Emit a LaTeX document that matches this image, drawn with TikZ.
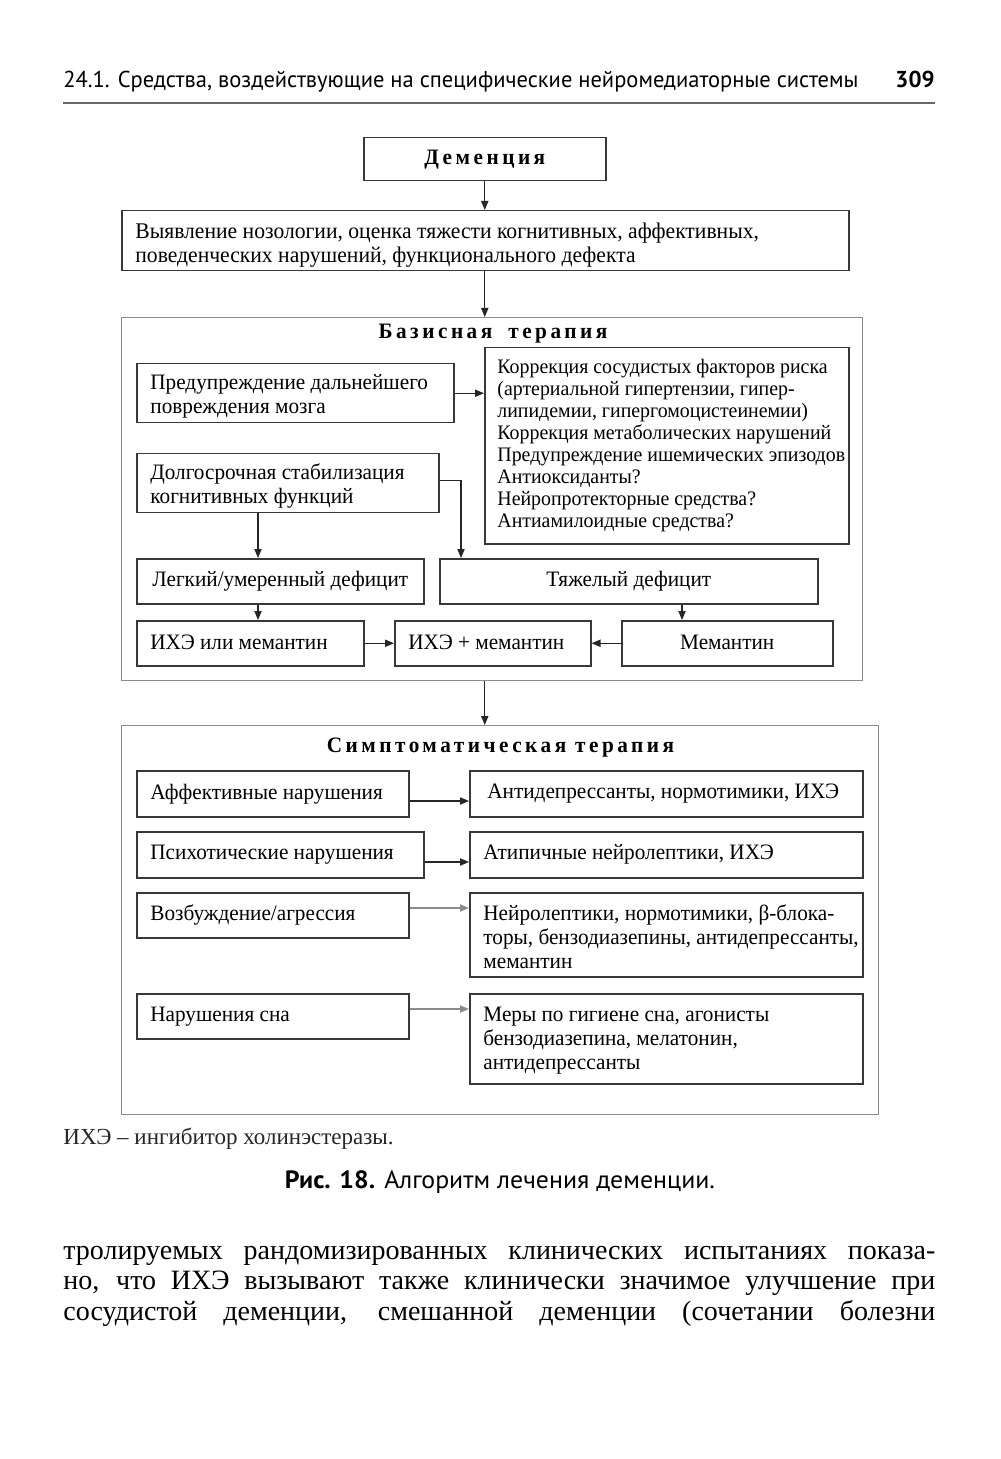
\documentclass[tikz,border=0pt]{standalone}
\usepackage{fontspec}
\usepackage{graphicx}
\setmainfont{Liberation Serif}[FakeStretch=0.965]
\newfontfamily\bodyfont{Liberation Serif}
\newfontfamily\hdrfont{PT Sans}
\usetikzlibrary{arrows.meta,calc}
\tikzset{
  x=0.5pt, y=-0.5pt,
  boxf/.style={draw=black!78, line width=0.75pt, inner sep=0pt},
  lbl/.style={inner sep=0pt, align=left, font=\fontsize{11}{12}\selectfont},
  frame/.style={draw=black!45, line width=0.6pt, inner sep=0pt},
  ttl/.style={font=\fontsize{11}{12}\selectfont\bfseries\addfontfeature{LetterSpace=16}, inner sep=0pt},
  arr/.style={-{Triangle[length=4.5pt,width=3.6pt]}, line width=0.6pt, draw=black!85},
  arrl/.style={-{Triangle[length=4.5pt,width=3.6pt]}, line width=0.6pt, draw=black!45, fill=black!80},
  txt/.style={inner sep=0pt, anchor=base west}
}
% \mkbox[label opts]{x1}{y1}{x2}{y2}{name}{text}  -- left-aligned label
\newcommand\mkbox[7][]{%
  \node[boxf,
    minimum width=\the\dimexpr(#4pt-#2pt)/2\relax,
    minimum height=\the\dimexpr(#5pt-#3pt)/2\relax,
    anchor=north west] (#6) at (#2,#3) {};
  \node[lbl, anchor=west, xshift=7pt, #1] (#6t) at (#6.west) {#7};}
% centred label
\newcommand\mkboxc[7][]{%
  \node[boxf,
    minimum width=\the\dimexpr(#4pt-#2pt)/2\relax,
    minimum height=\the\dimexpr(#5pt-#3pt)/2\relax,
    anchor=north west] (#6) at (#2,#3) {};
  \node[lbl, align=center, #1] (#6t) at (#6.center) {#7};}
\newcommand\mkframe[5]{%
  \node[frame,
    minimum width=\the\dimexpr(#3pt-#1pt)/2\relax,
    minimum height=\the\dimexpr(#4pt-#2pt)/2\relax,
    anchor=north west] (#5) at (#1,#2) {};}
\begin{document}
\begin{tikzpicture}
\useasboundingbox[fill=white] (0,0) rectangle (1000,1459);

% page header
\node[txt, font=\hdrfont\fontsize{11.5}{13}\selectfont] (hdr) at (63,88)
  {\resizebox{397.5pt}{\height}{24.1. Средства, воздействующие на специфические нейромедиаторные системы}};
\node[inner sep=0pt, anchor=base east, font=\hdrfont\fontsize{11.5}{13}\selectfont\bfseries] (pg) at (935,88) {309};
\draw[draw=black!60, line width=0.8pt] (hdr.base west |- 0,103) -- (pg.base east |- 0,103);

% top boxes
\mkboxc[ttl]{363}{137}{605}{180}{dem}{Деменция}
\mkbox[yshift=-2pt, font=\fontsize{11.2}{12}\selectfont]{121}{210}{848}{270}{vyy}{Выявление нозологии, оценка тяжести когнитивных, аффективных,\\поведенческих нарушений, функционального дефекта}

% basic therapy frame
\mkframe{121}{317}{862}{680}{bas}
\node[ttl] (bast) at (493,334) {Базисная\hspace{8pt}терапия};
\mkbox[yshift=-1.5pt]{136}{363}{453}{422}{pred}{Предупреждение дальнейшего\\повреждения мозга}
\mkbox[xshift=-0.5pt, font=\fontsize{10.3}{11}\selectfont]{484}{347}{848}{543}{korr}{Коррекция сосудистых факторов риска\\(артериальной гипертензии, гипер-\\липидемии, гипергомоцистеинемии)\\Коррекция метаболических нарушений\\Предупреждение ишемических эпизодов\\Антиоксиданты?\\Нейропротекторные средства?\\Антиамилоидные средства?}
\mkbox[yshift=-1.5pt]{136}{453}{438}{512}{dolg}{Долгосрочная стабилизация\\когнитивных функций}
\mkboxc{136}{558}{423}{603}{leg}{Легкий/умеренный дефицит}
\mkboxc{439}{558}{817}{603}{tyazh}{Тяжелый дефицит}
\mkbox[yshift=0.5pt]{136}{620}{363}{665}{ikhe1}{ИХЭ или мемантин}
\mkbox[yshift=0.5pt]{394}{620}{590}{665}{ikhe2}{ИХЭ + мемантин}
\mkboxc[yshift=0.5pt]{621}{620}{832}{665}{mem}{Мемантин}

% symptomatic therapy frame
\mkframe{121}{725}{878}{1114}{sym}
\node[ttl] (symt) at (500.5,748) {Симптоматическая терапия};
\mkbox{136}{770}{408}{816}{aff}{Аффективные нарушения}
\mkbox[xshift=2pt]{469}{770}{862}{816}{affr}{Антидепрессанты, нормотимики, ИХЭ}
\mkbox{136}{831}{423}{877}{psy}{Психотические нарушения}
\mkbox{469}{831}{862}{877}{psyr}{Атипичные нейролептики, ИХЭ}
\mkbox{136}{892}{408}{937}{voz}{Возбуждение/агрессия}
\mkbox[yshift=-1pt]{469}{892}{862}{976}{vozr}{Нейролептики, нормотимики, β-блока-\\торы, бензодиазепины, антидепрессанты,\\мемантин}
\mkbox{136}{993}{408}{1038}{son}{Нарушения сна}
\mkbox[yshift=-1pt]{469}{993}{862}{1083}{sonr}{Меры по гигиене сна, агонисты\\бензодиазепина, мелатонин,\\антидепрессанты}

% connectors
\draw[arr] (dem.south) -- (vyy.north -| dem.south);
\draw[arr] (vyy.south -| dem.south) -- (bas.north -| dem.south);
\draw[arr] (pred.east) -- (pred.east -| korr.west);
\draw[arr] ($(dolg.east)+(0,-3)$) -| ($(tyazh.north west)+(22,0)$);
\draw[arr] ($(dolg.south west)+(122,0)$) -- ($(leg.north west)+(122,0)$);
\draw[arr] ($(leg.south west)+(122,0)$) -- ($(ikhe1.north west)+(122,0)$);
\draw[arr] ($(tyazh.south west)+(243,0)$) -- ($(mem.north west)+(61,0)$);
\draw[arr] (ikhe1.east) -- (ikhe2.west);
\draw[arr] (mem.west) -- (ikhe2.east);
\draw[arr] (bas.south -| dem.south) -- (sym.north -| dem.south);
\draw[arr] ($(aff.north east)+(0,31)$) -- ($(affr.north west)+(0,31)$);
\draw[arr] ($(psy.north east)+(0,31)$) -- ($(psyr.north west)+(0,31)$);
\draw[arrl] ($(voz.north east)+(0,16)$) -- ($(vozr.north west)+(0,16)$);
\draw[arrl] ($(son.north east)+(0,16)$) -- ($(sonr.north west)+(0,16)$);

% footnote and caption
\node[txt, font=\bodyfont\fontsize{11.5}{13}\selectfont, text=black!85] (fn) at (63,1144) {ИХЭ – ингибитор холинэстеразы.};
\node[inner sep=0pt, anchor=base, font=\hdrfont\fontsize{12.5}{14}\selectfont] (cap) at (500,1188)
  {\resizebox{215pt}{\height}{\textbf{Рис. 18.} Алгоритм лечения деменции.}};

% body text
\node[txt, font=\bodyfont\fontsize{14}{15}\selectfont] (b1) at (63,1259) {\makebox[436pt][s]{тролируемых рандомизированных клинических испытаниях показа-}};
\node[txt, font=\bodyfont\fontsize{14}{15}\selectfont] (b2) at (63,1289) {\makebox[436pt][s]{но, что ИХЭ вызывают также клинически значимое улучшение при}};
\node[txt, font=\bodyfont\fontsize{14}{15}\selectfont] (b3) at (63,1320) {\makebox[436pt][s]{сосудистой деменции, смешанной деменции (сочетании болезни}};
\end{tikzpicture}
\end{document}
